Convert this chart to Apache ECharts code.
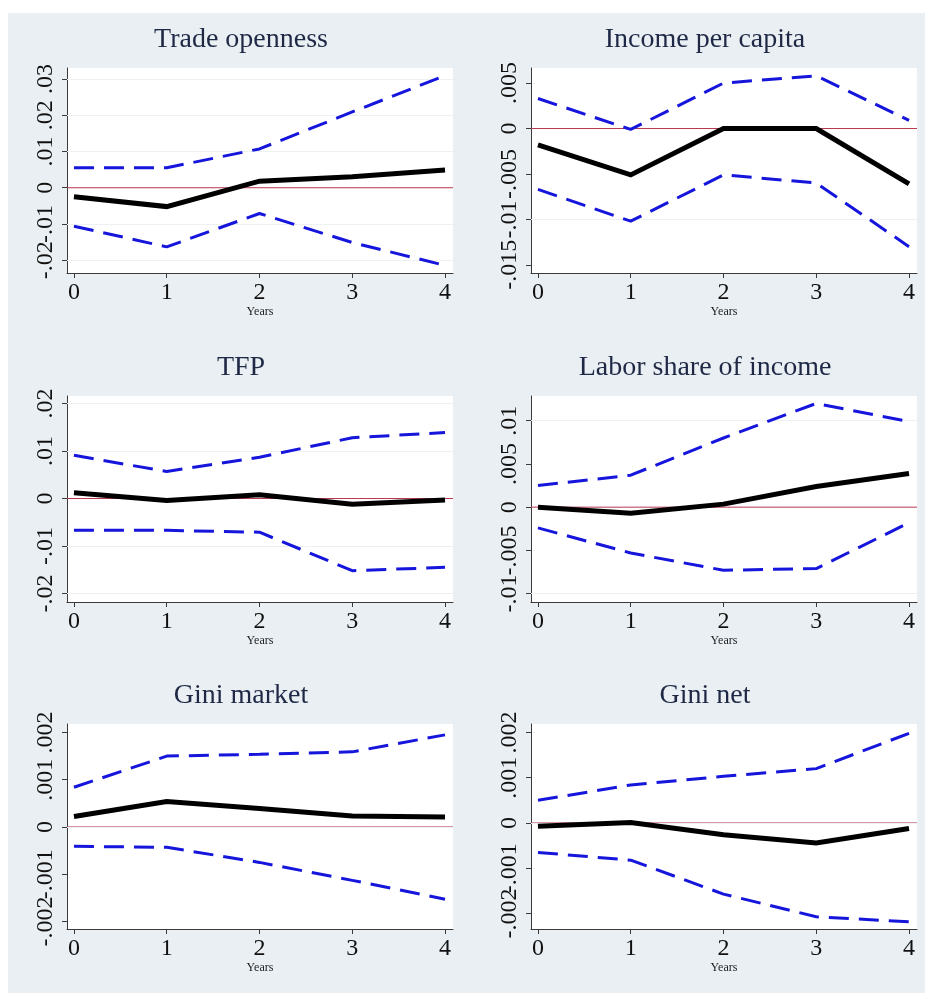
<!DOCTYPE html>
<html>
<head>
<meta charset="utf-8">
<script src="https://cdn.jsdelivr.net/npm/echarts@6/dist/echarts.min.js"></script>
<style>
  html, body { margin: 0; padding: 0; background: #ffffff; }
  #chart { width: 925px; height: 993px; }
</style>
</head>
<body>
<div id="chart"></div>
<script>
// ---------------- data ----------------
const years = [0, 1, 2, 3, 4];
const xTicks = [0, 1, 2, 3, 4];
const xName = 'Years';
const refValue = 0;

const panelTitles = ['Trade openness', 'Income per capita', 'TFP', 'Labor share of income', 'Gini market', 'Gini net'];

const tradeEst   = [-0.0025, -0.0052, 0.0018, 0.0030, 0.0049];
const tradeUpper = [0.0055, 0.0055, 0.0107, 0.0209, 0.0309];
const tradeLower = [-0.0106, -0.0163, -0.0071, -0.0151, -0.0214];
const tradeTicks = [-0.02, -0.01, 0, 0.01, 0.02, 0.03];

const incomeEst   = [-0.0018, -0.0051, 0.0000, 0.0000, -0.0061];
const incomeUpper = [0.0033, -0.0001, 0.0050, 0.0058, 0.0009];
const incomeLower = [-0.0067, -0.0102, -0.0051, -0.0060, -0.0130];
const incomeTicks = [-0.015, -0.01, -0.005, 0, 0.005];

const tfpEst   = [0.0012, -0.0004, 0.0008, -0.0012, -0.0003];
const tfpUpper = [0.0091, 0.0057, 0.0087, 0.0128, 0.0139];
const tfpLower = [-0.0067, -0.0067, -0.0071, -0.0152, -0.0145];
const tfpTicks = [-0.02, -0.01, 0, 0.01, 0.02];

const laborEst   = [0.0000, -0.0007, 0.00035, 0.0024, 0.0039];
const laborUpper = [0.0025, 0.0037, 0.0080, 0.0120, 0.0099];
const laborLower = [-0.0024, -0.0053, -0.0073, -0.0071, -0.0018];
const laborTicks = [-0.01, -0.005, 0, 0.005, 0.01];

const giniMktEst   = [0.00022, 0.00054, 0.00039, 0.00023, 0.00021];
const giniMktUpper = [0.00084, 0.00150, 0.00154, 0.00159, 0.00195];
const giniMktLower = [-0.00041, -0.00043, -0.00075, -0.00113, -0.00153];
const giniMktTicks = [-0.002, -0.001, 0, 0.001, 0.002];

const giniNetEst   = [-0.00007, 0.00001, -0.00026, -0.00044, -0.00012];
const giniNetUpper = [0.00050, 0.00084, 0.00103, 0.00120, 0.00198];
const giniNetLower = [-0.00065, -0.00082, -0.00157, -0.00207, -0.00218];
const giniNetTicks = [-0.002, -0.001, 0, 0.001, 0.002];

// ---------------- layout / style ----------------
const panels = [
  { est: tradeEst,   up: tradeUpper,   lo: tradeLower,   ticks: tradeTicks,   yMin: -0.0235,  yMax: 0.0330 },
  { est: incomeEst,  up: incomeUpper,  lo: incomeLower,  ticks: incomeTicks,  yMin: -0.0159,  yMax: 0.00666 },
  { est: tfpEst,     up: tfpUpper,     lo: tfpLower,     ticks: tfpTicks,     yMin: -0.0218,  yMax: 0.0216 },
  { est: laborEst,   up: laborUpper,   lo: laborLower,   ticks: laborTicks,   yMin: -0.01097, yMax: 0.01286 },
  { est: giniMktEst, up: giniMktUpper, lo: giniMktLower, ticks: giniMktTicks, yMin: -0.00216, yMax: 0.00218 },
  { est: giniNetEst, up: giniNetUpper, lo: giniNetLower, ticks: giniNetTicks, yMin: -0.00234, yMax: 0.002185 }
];
const colLeft = [67, 531];
const rowTop = [68, 396, 724];
const rowHeight = [205, 206, 205];
const gridWidth = 386;
const titleCenter = [241, 705];
const titleTop = [26, 354, 682];
const X_MIN = -0.075, X_MAX = 4.086;

const FONT = "'Liberation Serif', 'Times New Roman', serif";
const BLUE = '#1515dc';
const RED = '#b5384f';
const GRIDC = '#eef1f3';
const AXISC = '#3a3a3a';

function stataFmt(v) {
  if (Math.abs(v) < 1e-12) return '0';
  const s = String(+Number(v).toPrecision(6));
  return s.replace(/^(-?)0\./, '$1.');
}
function pairs(xs, ys) { return xs.map((x, i) => [x, ys[i]]); }

const grids = [], xAxes = [], yAxes = [], series = [], titles = [];
panels.forEach((p, i) => {
  const col = i % 2, row = Math.floor(i / 2);
  grids.push({
    left: colLeft[col], top: rowTop[row], width: gridWidth, height: rowHeight[row],
    show: true, backgroundColor: '#ffffff', borderWidth: 0
  });
  titles.push({
    text: panelTitles[i], left: titleCenter[col], top: titleTop[row], textAlign: 'center', padding: 0,
    textStyle: { fontFamily: FONT, fontSize: 28, fontWeight: 'normal', color: '#1f2946' }
  });
  xAxes.push({
    type: 'value', gridIndex: i, min: X_MIN, max: X_MAX, position: 'bottom',
    name: xName, nameLocation: 'middle', nameGap: 32,
    nameTextStyle: { fontFamily: FONT, fontSize: 12, color: '#222' },
    axisLine: { show: true, onZero: false, lineStyle: { color: AXISC, width: 1 } },
    axisTick: { show: true, length: 5, customValues: xTicks, lineStyle: { color: AXISC } },
    axisLabel: { customValues: xTicks, fontFamily: FONT, fontSize: 24, color: '#111', margin: 8,
      showMinLabel: true, showMaxLabel: true },
    splitLine: { show: false }
  });
  // two y axes share the same scale: labels alternate between them so that
  // tightly packed Stata-style labels are all drawn
  const evenTicks = p.ticks.filter((t, k) => k % 2 === 0);
  const oddTicks = p.ticks.filter((t, k) => k % 2 === 1);
  const labelStyle = { rotate: 90, fontFamily: FONT, fontSize: 24, color: '#111', margin: 9,
    showMinLabel: true, showMaxLabel: true, formatter: stataFmt };
  yAxes.push({
    type: 'value', gridIndex: i, min: p.yMin, max: p.yMax, position: 'left',
    axisLine: { show: true, onZero: false, lineStyle: { color: AXISC, width: 1 } },
    axisTick: { show: true, length: 5, customValues: p.ticks, lineStyle: { color: AXISC } },
    axisLabel: Object.assign({ customValues: evenTicks }, labelStyle),
    splitLine: { show: false }
  });
  yAxes.push({
    type: 'value', gridIndex: i, min: p.yMin, max: p.yMax, position: 'left', offset: 0,
    axisLine: { show: false, onZero: false },
    axisTick: { show: false, customValues: oddTicks },
    axisLabel: Object.assign({ customValues: oddTicks }, labelStyle),
    splitLine: { show: false }
  });
  const yi = 2 * i;
  // faint gridlines at the y ticks (except zero)
  series.push({
    type: 'line', xAxisIndex: i, yAxisIndex: yi, data: [], silent: true, z: 1,
    markLine: {
      silent: true, symbol: 'none', label: { show: false }, animation: false,
      lineStyle: { color: GRIDC, width: 1, type: 'solid' },
      emphasis: { disabled: true },
      data: p.ticks.filter(t => t !== refValue).map(t => ({ yAxis: t }))
    }
  });
  // zero reference line across the whole plot region
  series.push({
    type: 'line', xAxisIndex: i, yAxisIndex: yi, silent: true, z: 1,
    data: [[X_MIN, refValue], [X_MAX, refValue]],
    showSymbol: false, symbol: 'none', animation: false,
    lineStyle: { color: RED, width: 1 }
  });
  series.push({
    type: 'line', xAxisIndex: i, yAxisIndex: yi, data: pairs(years, p.up), z: 5,
    showSymbol: false, symbol: 'none', animation: false, silent: true,
    lineStyle: { color: BLUE, width: 3, type: [20, 10] }
  });
  series.push({
    type: 'line', xAxisIndex: i, yAxisIndex: yi, data: pairs(years, p.lo), z: 5,
    showSymbol: false, symbol: 'none', animation: false, silent: true,
    lineStyle: { color: BLUE, width: 3, type: [20, 10] }
  });
  series.push({
    type: 'line', xAxisIndex: i, yAxisIndex: yi, data: pairs(years, p.est), z: 10,
    showSymbol: false, symbol: 'none', animation: false, silent: true,
    lineStyle: { color: '#000000', width: 5, cap: 'butt', join: 'miter' }
  });
});

const chart = echarts.init(document.getElementById('chart'), null, { renderer: 'canvas' });
chart.setOption({
  backgroundColor: '#ffffff',
  animation: false,
  graphic: [
    { type: 'rect', z: -10, silent: true, shape: { x: 8, y: 13, width: 917, height: 980 }, style: { fill: '#e9eff2' } }
  ],
  title: titles,
  grid: grids,
  xAxis: xAxes,
  yAxis: yAxes,
  series: series
});
</script>
</body>
</html>
